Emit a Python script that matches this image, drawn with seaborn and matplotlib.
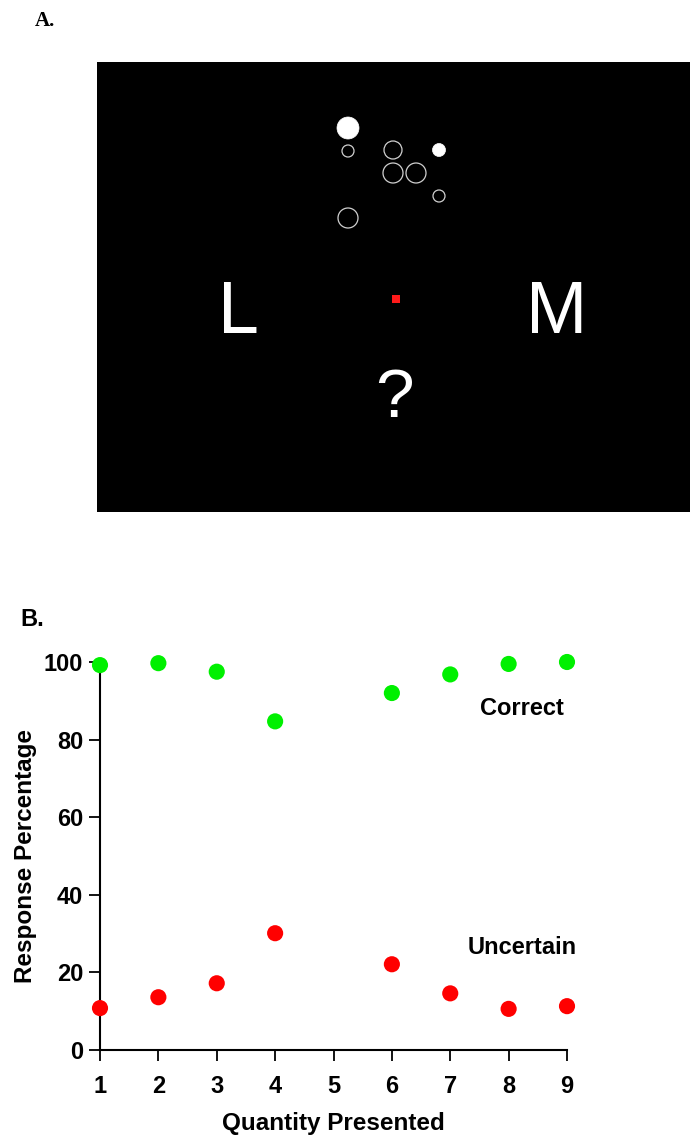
import numpy as np
import pandas as pd
import matplotlib
matplotlib.use('Agg')
import matplotlib.pyplot as plt
from matplotlib.patches import Circle, Rectangle
import seaborn as sns

# panel B data
quantities = [1, 2, 3, 4, 6, 7, 8, 9]
correct = [99.2, 99.7, 97.5, 84.7, 92.0, 96.8, 99.5, 100.0]
uncertain = [10.8, 13.6, 17.2, 30.1, 22.1, 14.6, 10.6, 11.3]
x_ticks = [1, 2, 3, 4, 5, 6, 7, 8, 9]
y_ticks = [0, 20, 40, 60, 80, 100]

# panel A stimulus (screen pixel coords)
stim_x = [348, 348, 393, 393, 416, 439, 439, 348]
stim_y = [128, 151, 150, 173, 173, 150, 196, 218]
stim_r = [11, 6, 9, 10, 10, 6.5, 6, 10]
stim_filled = [True, False, False, False, False, True, False, False]

sns.set_style('ticks')
plt.rcParams['font.family'] = ['Liberation Sans', 'DejaVu Sans']
plt.rcParams['text.color'] = 'black'
plt.rcParams['axes.labelcolor'] = 'black'
plt.rcParams['xtick.color'] = 'black'
plt.rcParams['ytick.color'] = 'black'

W, H = 690, 1136
fig = plt.figure(figsize=(W / 100, H / 100), dpi=100)

# ---- panel A ----
axA = fig.add_axes([97 / W, 1 - 512 / H, 593 / W, 450 / H])
axA.set_facecolor('black')
axA.set_xlim(97, 690)
axA.set_ylim(512, 62)
axA.set_xticks([])
axA.set_yticks([])
for s in axA.spines.values():
    s.set_visible(False)

for cx, cy, r, f in zip(stim_x, stim_y, stim_r, stim_filled):
    if f:
        axA.add_patch(Circle((cx, cy), r, facecolor='white', edgecolor='white', lw=0.5))
    else:
        axA.add_patch(Circle((cx, cy), r, facecolor='none', edgecolor='#d0d0d0', lw=0.9))

axA.add_patch(Rectangle((391.5, 295), 8, 8, facecolor='#ff1a1a', edgecolor='none'))
axA.text(238, 333, 'L', color='white', fontsize=53, ha='center', va='baseline')
axA.text(556.5, 333, 'M', color='white', fontsize=53, ha='center', va='baseline')
axA.text(394, 417, '?', color='white', fontsize=50, ha='center', va='baseline')

fig.text(35 / W, 1 - 21 / H, 'A.', family='Liberation Serif', fontweight='bold',
         fontsize=15, ha='left', va='center')

# ---- panel B ----
axB = fig.add_axes([100 / W, 1 - 1050 / H, 467 / W, 388 / H])
df = pd.DataFrame({
    'Quantity': quantities * 2,
    'Percent': correct + uncertain,
    'Response': ['Correct'] * len(quantities) + ['Uncertain'] * len(quantities),
})
sns.scatterplot(data=df, x='Quantity', y='Percent', hue='Response',
                palette={'Correct': '#00f000', 'Uncertain': '#ff0000'},
                s=135, edgecolor='none', legend=False, clip_on=False, zorder=3, ax=axB)

axB.set_xlim(1, 9)
axB.set_ylim(0, 100)
axB.set_xticks(x_ticks)
axB.set_yticks(y_ticks)
sns.despine(ax=axB)
for s in ['left', 'bottom']:
    axB.spines[s].set_linewidth(1.5)
    axB.spines[s].set_color('black')
axB.tick_params(axis='both', direction='out', length=8, width=1.3, labelsize=17, colors='black')
axB.tick_params(axis='x', pad=10)
axB.tick_params(axis='y', pad=4)
for lab in axB.get_xticklabels() + axB.get_yticklabels():
    lab.set_fontweight('bold')
axB.set_xlabel('Quantity Presented', fontsize=17.5, fontweight='bold', labelpad=10)
axB.set_ylabel('Response Percentage', fontsize=17.5, fontweight='bold', labelpad=5)

axB.text(8.23, 88.1, 'Correct', fontsize=17, fontweight='bold', ha='center', va='center')
axB.text(8.23, 26.3, 'Uncertain', fontsize=17, fontweight='bold', ha='center', va='center')

fig.text(20 / W, 1 - 620 / H, 'B.', fontweight='bold', fontsize=17, ha='left', va='center')

fig.savefig('out.png', dpi=100)
